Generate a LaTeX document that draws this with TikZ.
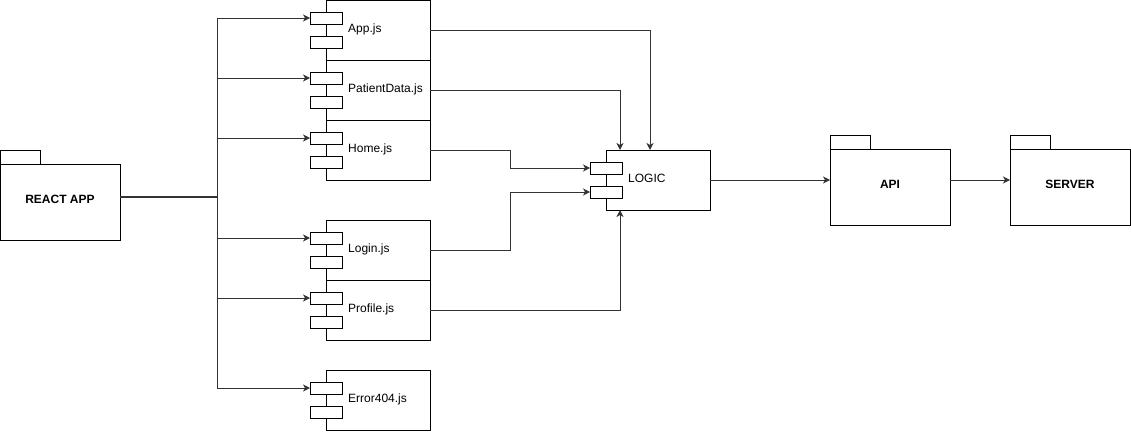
\documentclass[tikz,border=0pt]{standalone}
\usepackage{fontspec}
\setmainfont{Liberation Sans}
\usetikzlibrary{arrows.meta}
\begin{document}
\begin{tikzpicture}[x=1pt,y=-1pt,
  box/.style={draw=black,line width=1pt,fill=white,inner sep=0pt,outer sep=0pt},
  combody/.style={box,anchor=north west,minimum width=104pt,minimum height=60pt},
  port/.style={box,anchor=north west,minimum width=32pt,minimum height=12pt},
  pkgbody/.style={box,anchor=north west,minimum width=120pt,minimum height=76pt},
  pkgtab/.style={box,anchor=north west,minimum width=40pt,minimum height=14pt},
  lbl/.style={inner sep=0pt,anchor=base west,font=\fontsize{12pt}{14pt}\selectfont},
  blbl/.style={inner sep=0pt,anchor=base,font=\fontsize{12pt}{14pt}\selectfont\bfseries},
  arr/.style={draw=black!80,line width=1pt,-{Stealth[length=7pt,width=7pt,inset=2pt]}},
  ln/.style={draw=black!80,line width=1pt}]
\useasboundingbox (0,0) rectangle (1131,431);

% REACT APP package
\node[pkgtab] (reacttab) at (0,150) {};
\node[pkgbody] (react) at (0,164) {};
\node[blbl] (reactl) at (60,203) {REACT APP};

% API package
\node[pkgtab] (apitab) at (830,135) {};
\node[pkgbody] (api) at (830,149) {};
\node[blbl] (apil) at (890,188) {API};

% SERVER package
\node[pkgtab] (servertab) at (1010,135) {};
\node[pkgbody] (server) at (1010,149) {};
\node[blbl] (serverl) at (1070,188) {SERVER};

% components
\foreach \n/\y/\t in {app/0/App.js, pat/60/PatientData.js, home/120/Home.js, login/220/Login.js, prof/280/Profile.js, err/370/Error404.js}{
  \node[combody] (\n) at (326,\y) {};
  \node[port] (\n-p1) at (310,\y+12) {};
  \node[port] (\n-p2) at (310,\y+36) {};
  \node[lbl] (\n-l) at (348,\y+32) {\t};
}

% LOGIC component
\node[combody] (logic) at (606,150) {};
\node[port] (logic-p1) at (590,162) {};
\node[port] (logic-p2) at (590,186) {};
\node[lbl] (logic-l) at (628,182) {LOGIC};

% bus
\coordinate (bus) at (217,197);
\draw[ln,line width=1.6pt] (react.east |- bus) -- (bus);
\foreach \n in {app,pat,home,login,prof,err}{
  \draw[arr] (react.east |- bus) -- (bus) |- (\n-p1.west);
}

% into LOGIC
\coordinate (appd) at (650,150);
\coordinate (patd) at (620,150);
\coordinate (profu) at (620,210);
\draw[arr] (app.east |- 0,30) -| (appd);
\draw[arr] (pat.east |- 0,90) -| (patd);
\draw[arr] (home.east |- 0,150) -- (510,150) |- (logic-p1.west);
\draw[arr] (login.east |- 0,250) -- (510,250) |- (logic-p2.west);
\draw[arr] (prof.east |- 0,310) -| (profu);

% LOGIC -> API -> SERVER
\draw[arr] (logic.east) -- (api.west |- logic.east);
\draw[arr] (api.east |- 0,180) -- (server.west |- 0,180);
\end{tikzpicture}
\end{document}
